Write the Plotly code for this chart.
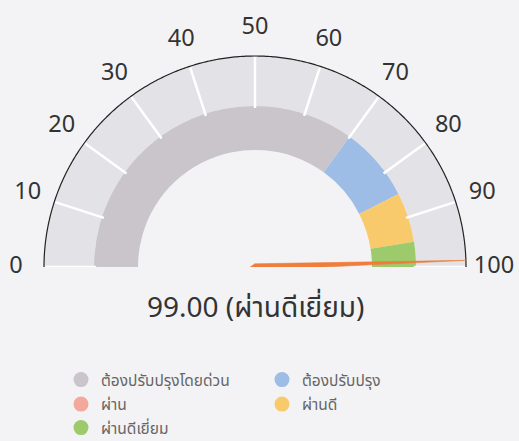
import numpy as np
import plotly.graph_objects as go

# ---- data ----
tick_values = [0, 10, 20, 30, 40, 50, 60, 70, 80, 90, 100]
tick_labels = [str(v) for v in tick_values]
band_names = ["ต้องปรับปรุงโดยด่วน", "ต้องปรับปรุง", "ผ่าน", "ผ่านดี", "ผ่านดีเยี่ยม"]
band_starts = [0, 70, 85, 85, 95]
band_ends = [70, 85, 85, 95, 100]
band_colors = ["#c9c5cb", "#9ebde6", "#f2a89a", "#f9ca6b", "#9dcb6b"]
legend_rows = [1, 1, 2, 2, 3]
gauge_min, gauge_max = 0, 100
score = 99.00
score_label = "ผ่านดีเยี่ยม"

# ---- styling ----
FONT = "Noto Sans Thai, Noto Sans, sans-serif"
BG = "#f3f3f5"
TRACK = "#e3e2e7"
NEEDLE = "#ef7d3b"
W, H = 519, 441
cx, cy = 255, 267
R_PX = 211.0          # pixel radius of the gauge's outer arc (r = 1)
RMAX = 1.2            # radial axis range end (room for labels)
band_inner = 117 / R_PX
band_outer = 161 / R_PX
label_r = 239 / R_PX
tick_in = band_outer - 0.01
tick_out = 0.995

def to_deg(v):
    return (v - gauge_min) / (gauge_max - gauge_min) * 180.0

fig = go.Figure()

# track
fig.add_trace(go.Barpolar(
    r=[1 - band_outer], base=[band_outer],
    theta=[to_deg((gauge_min + gauge_max) / 2)], width=[to_deg(gauge_max) - to_deg(gauge_min)],
    marker=dict(color=TRACK, line=dict(width=0)), showlegend=False, hoverinfo="skip"))

# tick marks (white)
tr, tt = [], []
for v in tick_values:
    tr += [tick_in, tick_out, None]
    tt += [to_deg(v), to_deg(v), None]
fig.add_trace(go.Scatterpolar(
    r=tr, theta=tt, mode="lines", line=dict(color="white", width=2.5),
    showlegend=False, hoverinfo="skip", connectgaps=False))

# bands
for name, s, e, c in zip(band_names, band_starts, band_ends, band_colors):
    if e > s:
        fig.add_trace(go.Barpolar(
            r=[band_outer - band_inner], base=[band_inner],
            theta=[to_deg((s + e) / 2)], width=[to_deg(e) - to_deg(s)],
            marker=dict(color=c, line=dict(width=0)), showlegend=False,
            name=name, hoverinfo="skip"))

# outer arc
arc_theta = np.linspace(to_deg(gauge_min), to_deg(gauge_max), 361)
fig.add_trace(go.Scatterpolar(
    r=np.ones_like(arc_theta), theta=arc_theta, mode="lines",
    line=dict(color="#222", width=1.2), cliponaxis=False,
    showlegend=False, hoverinfo="skip"))

# tick labels
fig.add_trace(go.Scatterpolar(
    r=[label_r] * len(tick_values), theta=[to_deg(v) for v in tick_values],
    text=tick_labels, mode="text", textposition="middle center",
    textfont=dict(size=23.5, color="#333", family=FONT), cliponaxis=False,
    showlegend=False, hoverinfo="skip"))

# needle (tapered)
t = to_deg(score)
half_w = 3.2 / R_PX
tail = 5 / R_PX
fig.add_trace(go.Scatterpolar(
    r=[1.0, half_w, tail, half_w, 1.0],
    theta=[t, t - 90, t + 180, t + 90, t],
    mode="lines", fill="toself", fillcolor=NEEDLE,
    line=dict(color=NEEDLE, width=0.6), cliponaxis=False,
    showlegend=False, hoverinfo="skip"))

# legend entries
for name, c, row in zip(band_names, band_colors, legend_rows):
    fig.add_trace(go.Scatterpolar(
        r=[None], theta=[None], mode="markers", name=name,
        legend="legend" if row == 1 else f"legend{row}",
        marker=dict(color=c, size=15, symbol="circle"), showlegend=True))

row_y = {1: 380, 2: 404.5, 3: 428}
def legend_cfg(row):
    return dict(
        orientation="h", x=61 / W, y=1 - row_y[row] / H, xanchor="left", yanchor="middle",
        entrywidth=156, entrywidthmode="pixels",
        font=dict(size=15.5, color="#666", family=FONT),
        bgcolor="rgba(0,0,0,0)", itemclick=False, itemdoubleclick=False)

RP = R_PX * RMAX
fig.update_layout(
    width=W, height=H,
    margin=dict(l=0, r=0, t=0, b=0, autoexpand=False),
    paper_bgcolor=BG, plot_bgcolor=BG,
    font=dict(family=FONT, color="#333"),
    polar=dict(
        domain=dict(x=[(cx - RP) / W, (cx + RP) / W],
                    y=[1 - cy / H, 1 - (cy - RP) / H]),
        sector=[0, 180], hole=0, bgcolor=BG,
        radialaxis=dict(range=[0, RMAX], visible=False, showgrid=False, showline=False),
        angularaxis=dict(
            type="linear", direction="clockwise", rotation=180,
            showticklabels=False, ticks="", showline=False, showgrid=False,
            linecolor=BG),
    ),
    legend=legend_cfg(1), legend2=legend_cfg(2), legend3=legend_cfg(3),
    annotations=[dict(
        x=cx / W, y=1 - 308 / H, xref="paper", yref="paper", yanchor="middle",
        text=f"{score:.2f} ({score_label})", showarrow=False,
        font=dict(size=28, color="#333", family=FONT))],
)

fig.write_html("out.html", config={"displayModeBar": False},
               post_script="document.body.style.margin='0px';")
